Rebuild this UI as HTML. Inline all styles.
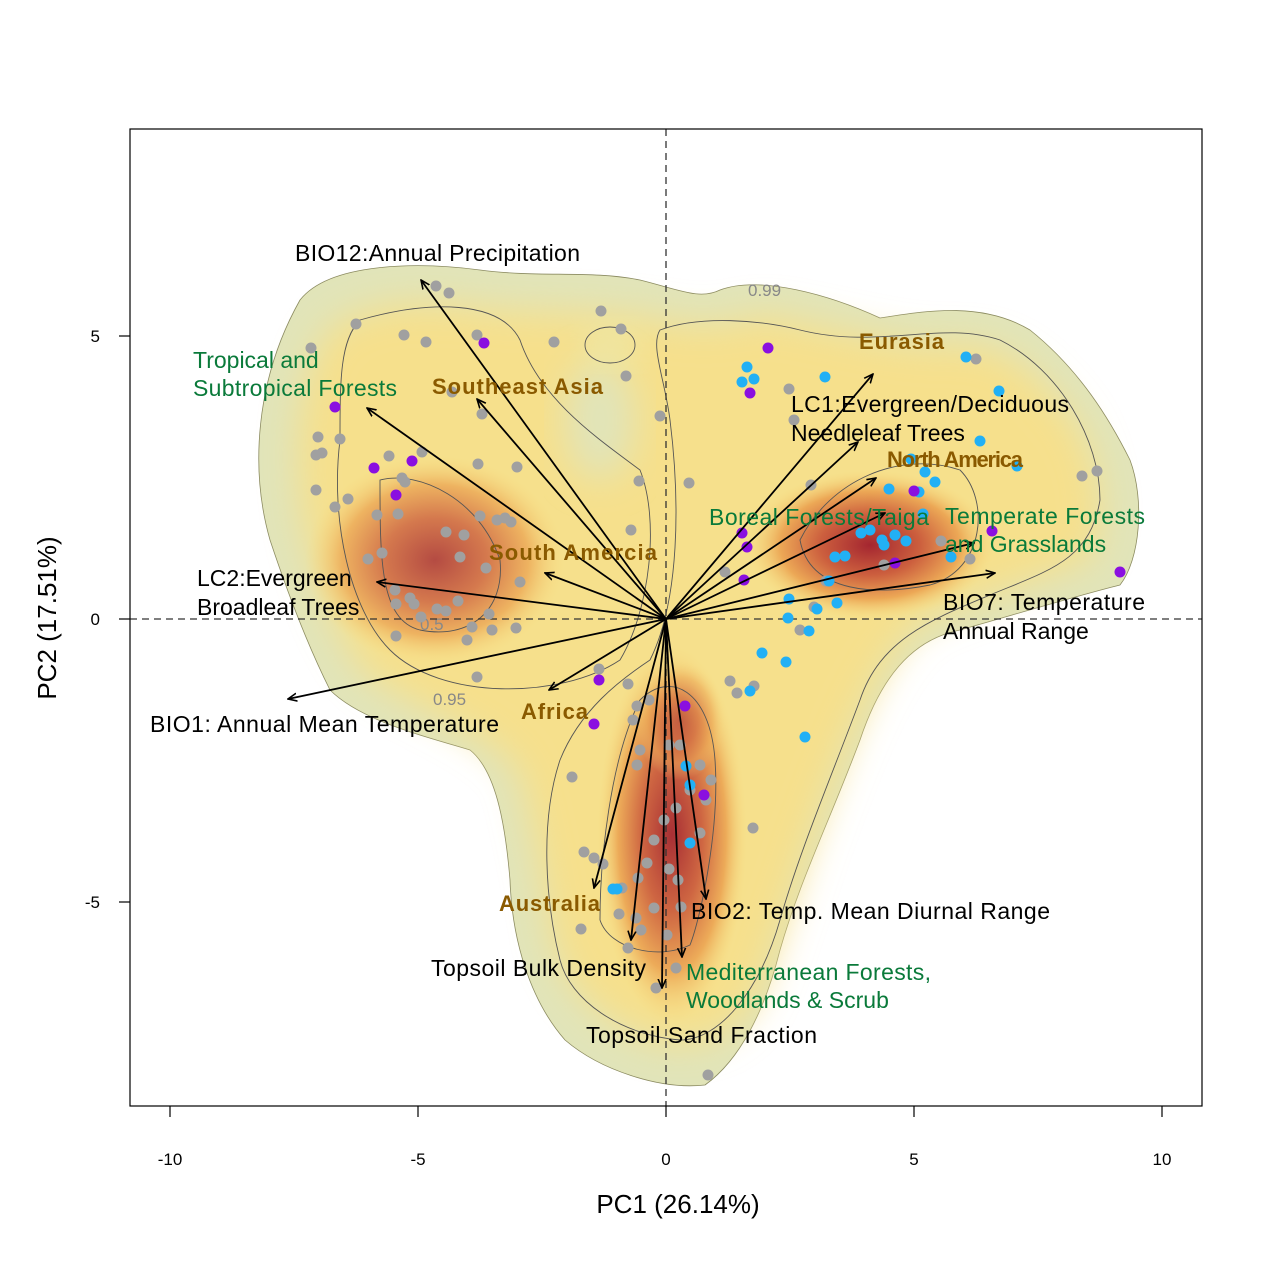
<!DOCTYPE html>
<html><head><meta charset="utf-8"><style>
html,body{margin:0;padding:0;background:#fff}
svg{display:block;font-family:"Liberation Sans",Arial,sans-serif}
</style></head><body>
<svg width="1269" height="1269" viewBox="0 0 1269 1269" xmlns="http://www.w3.org/2000/svg">
<defs>
<filter id="b1" x="-30%" y="-30%" width="160%" height="160%"><feGaussianBlur stdDeviation="18"/></filter>
<radialGradient id="hot"><stop offset="0" stop-color="#a42630"/><stop offset="0.4" stop-color="#cc5f3e"/><stop offset="0.72" stop-color="#eca856"/><stop offset="1" stop-color="#f7dc80" stop-opacity="0"/></radialGradient>
<marker id="ah" markerWidth="10" markerHeight="10" refX="9" refY="5" orient="auto" markerUnits="userSpaceOnUse"><path d="M0,1 L9,5 L0,9" fill="none" stroke="#000" stroke-width="1.6"/></marker>
<clipPath id="pc"><rect x="130" y="129" width="1072" height="977"/></clipPath>
</defs>
<g clip-path="url(#pc)">
<path d="M300,300 C330,262 420,262 480,270 C540,278 590,270 640,280 C680,290 700,300 720,290 C760,275 830,295 880,318 C920,312 980,300 1030,330 C1080,370 1110,420 1130,460 C1145,500 1140,560 1120,585 C1080,595 1030,610 960,630 C910,640 880,680 860,740 C830,820 800,880 780,950 C765,1010 740,1060 705,1085 C660,1090 600,1070 565,1040 C530,1000 512,940 510,880 C505,820 495,770 470,750 C420,735 360,720 330,690 C310,650 290,600 270,540 C250,470 255,380 300,300 Z" fill="#e1e4b9" stroke="#8a8a60" stroke-width="0.8"/>
<g filter="url(#b1)">
<path d="M330,330 C370,300 430,300 480,308 C540,312 590,310 650,318 C700,328 720,328 760,315 C830,325 900,348 950,345 C1000,340 1035,370 1070,415 C1100,455 1108,520 1090,558 C1045,578 985,595 925,620 C885,648 855,720 825,800 C795,880 775,955 755,1000 C730,1040 690,1050 652,1040 C605,1022 568,995 553,940 C543,880 533,820 518,770 C485,728 405,705 365,672 C337,635 318,585 305,528 C292,460 297,375 330,330 Z" fill="#f6e08c"/>
</g>
<ellipse cx="600" cy="420" rx="35" ry="60" fill="#e1e4b9" filter="url(#b1)"/>
<ellipse cx="610" cy="345" rx="25" ry="18" fill="#ede8a8" filter="url(#b1)"/>
<ellipse cx="435" cy="560" rx="130" ry="105" fill="url(#hot)" opacity="0.8"/>
<ellipse cx="870" cy="545" rx="125" ry="75" fill="url(#hot)"/>
<ellipse cx="672" cy="835" rx="75" ry="190" fill="url(#hot)" opacity="0.95"/>
<ellipse cx="680" cy="720" rx="45" ry="60" fill="url(#hot)" opacity="0.5"/>
<g fill="none" stroke="#555" stroke-width="0.9">
<path d="M360,320 C430,300 500,300 520,340 C540,400 600,440 640,470 C660,520 650,610 620,660 C560,700 440,700 390,650 C350,610 330,520 340,440 C340,380 340,340 360,320 Z"/>
<path d="M660,330 C700,315 760,320 800,330 C880,350 940,320 1000,340 C1060,370 1100,440 1100,500 C1090,560 1050,570 990,595 C930,620 880,640 860,700 C830,780 800,850 780,920 C760,990 720,1040 680,1040 C620,1035 570,1000 560,960 C545,900 540,820 560,760 C580,710 620,680 650,660 C680,600 680,500 670,420 C665,380 650,345 660,330 Z"/>
<path d="M380,480 C420,470 480,500 500,560 C505,610 470,640 420,630 C380,620 380,560 380,480 Z"/>
<path d="M800,540 C830,480 900,450 960,470 C990,500 985,570 930,585 C880,595 810,595 800,540 Z"/>
<path d="M640,700 C670,670 710,690 715,760 C720,830 700,920 690,945 C660,960 610,950 600,920 C600,860 610,760 640,700 Z"/>
<ellipse cx="610" cy="345" rx="25" ry="18"/>
</g>
<g font-size="17" fill="#888"><text x="748" y="296">0.99</text><text x="433" y="705">0.95</text><text x="420" y="630">0.5</text></g>
</g>
<line x1="666" y1="129" x2="666" y2="1106" stroke="#333" stroke-width="1.3" stroke-dasharray="7,5"/>
<line x1="130" y1="619" x2="1202" y2="619" stroke="#333" stroke-width="1.3" stroke-dasharray="7,5"/>
<g fill="#a0a0a0">
<circle cx="356" cy="324" r="5.5"/><circle cx="311" cy="348" r="5.5"/><circle cx="436" cy="286" r="5.5"/><circle cx="449" cy="293" r="5.5"/><circle cx="404" cy="335" r="5.5"/><circle cx="426" cy="342" r="5.5"/><circle cx="477" cy="335" r="5.5"/><circle cx="554" cy="342" r="5.5"/><circle cx="601" cy="311" r="5.5"/><circle cx="621" cy="329" r="5.5"/><circle cx="626" cy="376" r="5.5"/><circle cx="660" cy="416" r="5.5"/><circle cx="452" cy="392" r="5.5"/><circle cx="482" cy="414" r="5.5"/><circle cx="318" cy="437" r="5.5"/><circle cx="340" cy="439" r="5.5"/><circle cx="316" cy="455" r="5.5"/><circle cx="322" cy="453" r="5.5"/><circle cx="316" cy="490" r="5.5"/><circle cx="348" cy="499" r="5.5"/><circle cx="335" cy="507" r="5.5"/><circle cx="389" cy="456" r="5.5"/><circle cx="402" cy="478" r="5.5"/><circle cx="405" cy="482" r="5.5"/><circle cx="422" cy="452" r="5.5"/><circle cx="478" cy="464" r="5.5"/><circle cx="517" cy="467" r="5.5"/><circle cx="377" cy="515" r="5.5"/><circle cx="398" cy="514" r="5.5"/><circle cx="446" cy="532" r="5.5"/><circle cx="464" cy="535" r="5.5"/><circle cx="497" cy="520" r="5.5"/><circle cx="505" cy="518" r="5.5"/><circle cx="511" cy="522" r="5.5"/><circle cx="480" cy="516" r="5.5"/><circle cx="382" cy="553" r="5.5"/><circle cx="368" cy="559" r="5.5"/><circle cx="460" cy="557" r="5.5"/><circle cx="486" cy="568" r="5.5"/><circle cx="520" cy="582" r="5.5"/><circle cx="395" cy="590" r="5.5"/><circle cx="410" cy="598" r="5.5"/><circle cx="396" cy="604" r="5.5"/><circle cx="414" cy="604" r="5.5"/><circle cx="437" cy="609" r="5.5"/><circle cx="446" cy="611" r="5.5"/><circle cx="458" cy="601" r="5.5"/><circle cx="489" cy="614" r="5.5"/><circle cx="472" cy="627" r="5.5"/><circle cx="492" cy="630" r="5.5"/><circle cx="516" cy="628" r="5.5"/><circle cx="467" cy="640" r="5.5"/><circle cx="396" cy="636" r="5.5"/><circle cx="421" cy="617" r="5.5"/><circle cx="477" cy="677" r="5.5"/><circle cx="631" cy="530" r="5.5"/><circle cx="639" cy="481" r="5.5"/><circle cx="689" cy="483" r="5.5"/><circle cx="725" cy="572" r="5.5"/><circle cx="789" cy="389" r="5.5"/><circle cx="794" cy="420" r="5.5"/><circle cx="811" cy="485" r="5.5"/><circle cx="976" cy="359" r="5.5"/><circle cx="1082" cy="476" r="5.5"/><circle cx="1097" cy="471" r="5.5"/><circle cx="970" cy="559" r="5.5"/><circle cx="941" cy="541" r="5.5"/><circle cx="884" cy="565" r="5.5"/><circle cx="826" cy="581" r="5.5"/><circle cx="800" cy="630" r="5.5"/><circle cx="814" cy="607" r="5.5"/><circle cx="730" cy="681" r="5.5"/><circle cx="737" cy="693" r="5.5"/><circle cx="754" cy="686" r="5.5"/><circle cx="753" cy="828" r="5.5"/><circle cx="572" cy="777" r="5.5"/><circle cx="599" cy="669" r="5.5"/><circle cx="628" cy="684" r="5.5"/><circle cx="637" cy="706" r="5.5"/><circle cx="633" cy="720" r="5.5"/><circle cx="640" cy="750" r="5.5"/><circle cx="637" cy="765" r="5.5"/><circle cx="669" cy="745" r="5.5"/><circle cx="680" cy="745" r="5.5"/><circle cx="700" cy="765" r="5.5"/><circle cx="711" cy="780" r="5.5"/><circle cx="706" cy="800" r="5.5"/><circle cx="690" cy="790" r="5.5"/><circle cx="700" cy="833" r="5.5"/><circle cx="676" cy="808" r="5.5"/><circle cx="664" cy="820" r="5.5"/><circle cx="654" cy="840" r="5.5"/><circle cx="647" cy="863" r="5.5"/><circle cx="669" cy="869" r="5.5"/><circle cx="638" cy="878" r="5.5"/><circle cx="622" cy="888" r="5.5"/><circle cx="603" cy="864" r="5.5"/><circle cx="584" cy="852" r="5.5"/><circle cx="594" cy="858" r="5.5"/><circle cx="619" cy="914" r="5.5"/><circle cx="636" cy="918" r="5.5"/><circle cx="654" cy="908" r="5.5"/><circle cx="681" cy="907" r="5.5"/><circle cx="628" cy="948" r="5.5"/><circle cx="641" cy="930" r="5.5"/><circle cx="667" cy="935" r="5.5"/><circle cx="581" cy="929" r="5.5"/><circle cx="676" cy="968" r="5.5"/><circle cx="656" cy="988" r="5.5"/><circle cx="708" cy="1075" r="5.5"/><circle cx="649" cy="700" r="5.5"/><circle cx="678" cy="880" r="5.5"/>
</g>
<g fill="#22b0f5">
<circle cx="747" cy="367" r="5.5"/><circle cx="742" cy="382" r="5.5"/><circle cx="754" cy="379" r="5.5"/><circle cx="825" cy="377" r="5.5"/><circle cx="966" cy="357" r="5.5"/><circle cx="999" cy="391" r="5.5"/><circle cx="980" cy="441" r="5.5"/><circle cx="911" cy="459" r="5.5"/><circle cx="925" cy="472" r="5.5"/><circle cx="935" cy="482" r="5.5"/><circle cx="889" cy="489" r="5.5"/><circle cx="919" cy="492" r="5.5"/><circle cx="1017" cy="466" r="5.5"/><circle cx="923" cy="514" r="5.5"/><circle cx="861" cy="533" r="5.5"/><circle cx="870" cy="530" r="5.5"/><circle cx="882" cy="540" r="5.5"/><circle cx="895" cy="535" r="5.5"/><circle cx="906" cy="541" r="5.5"/><circle cx="884" cy="545" r="5.5"/><circle cx="835" cy="557" r="5.5"/><circle cx="845" cy="556" r="5.5"/><circle cx="951" cy="557" r="5.5"/><circle cx="829" cy="581" r="5.5"/><circle cx="789" cy="599" r="5.5"/><circle cx="788" cy="618" r="5.5"/><circle cx="809" cy="631" r="5.5"/><circle cx="817" cy="609" r="5.5"/><circle cx="837" cy="603" r="5.5"/><circle cx="762" cy="653" r="5.5"/><circle cx="786" cy="662" r="5.5"/><circle cx="750" cy="691" r="5.5"/><circle cx="805" cy="737" r="5.5"/><circle cx="686" cy="766" r="5.5"/><circle cx="690" cy="785" r="5.5"/><circle cx="690" cy="843" r="5.5"/><circle cx="613" cy="889" r="5.5"/><circle cx="617" cy="889" r="5.5"/>
</g>
<g fill="#8a0fe0">
<circle cx="484" cy="343" r="5.5"/><circle cx="335" cy="407" r="5.5"/><circle cx="412" cy="461" r="5.5"/><circle cx="374" cy="468" r="5.5"/><circle cx="396" cy="495" r="5.5"/><circle cx="768" cy="348" r="5.5"/><circle cx="750" cy="393" r="5.5"/><circle cx="742" cy="533" r="5.5"/><circle cx="747" cy="547" r="5.5"/><circle cx="744" cy="580" r="5.5"/><circle cx="914" cy="491" r="5.5"/><circle cx="992" cy="531" r="5.5"/><circle cx="895" cy="563" r="5.5"/><circle cx="1120" cy="572" r="5.5"/><circle cx="599" cy="680" r="5.5"/><circle cx="594" cy="724" r="5.5"/><circle cx="685" cy="706" r="5.5"/><circle cx="704" cy="795" r="5.5"/>
</g>
<g stroke="#000" stroke-width="1.8" marker-end="url(#ah)">
<line x1="666" y1="619" x2="421" y2="280"/><line x1="666" y1="619" x2="367" y2="408"/><line x1="666" y1="619" x2="477" y2="399"/><line x1="666" y1="619" x2="858" y2="442"/><line x1="666" y1="619" x2="873" y2="374"/><line x1="666" y1="619" x2="876" y2="478"/><line x1="666" y1="619" x2="885" y2="513"/><line x1="666" y1="619" x2="974" y2="543"/><line x1="666" y1="619" x2="995" y2="573"/><line x1="666" y1="619" x2="377" y2="582"/><line x1="666" y1="619" x2="288" y2="699"/><line x1="666" y1="619" x2="545" y2="573"/><line x1="666" y1="619" x2="549" y2="690"/><line x1="666" y1="619" x2="594" y2="888"/><line x1="666" y1="619" x2="631" y2="940"/><line x1="666" y1="619" x2="662" y2="988"/><line x1="666" y1="619" x2="682" y2="957"/><line x1="666" y1="619" x2="706" y2="899"/>
</g>
<g font-size="23" fill="#000">
<text x="295" y="261" textLength="285">BIO12:Annual Precipitation</text>
<text x="791" y="412" textLength="278">LC1:Evergreen/Deciduous</text><text x="791" y="441">Needleleaf Trees</text>
<text x="943" y="610" textLength="202">BIO7: Temperature</text><text x="943" y="639">Annual Range</text>
<text x="197" y="586">LC2:Evergreen</text><text x="197" y="615">Broadleaf Trees</text>
<text x="150" y="732" textLength="349">BIO1: Annual Mean Temperature</text>
<text x="691" y="919" textLength="359">BIO2: Temp. Mean Diurnal Range</text>
<text x="431" y="976" textLength="215">Topsoil Bulk Density</text>
<text x="586" y="1043" textLength="231">Topsoil Sand Fraction</text>
</g>
<g font-size="23" fill="#0a7a3a">
<text x="193" y="368">Tropical and</text><text x="193" y="396" textLength="204">Subtropical Forests</text>
<text x="709" y="525" textLength="220">Boreal Forests/Taiga</text>
<text x="945" y="524" textLength="200">Temperate Forests</text><text x="945" y="552">and Grasslands</text>
<text x="686" y="980" textLength="245">Mediterranean Forests,</text><text x="686" y="1008">Woodlands &amp; Scrub</text>
</g>
<g font-size="22" fill="#8a5a00" font-weight="bold">
<text x="859" y="349" textLength="85">Eurasia</text>
<text x="432" y="394" textLength="171">Southeast Asia</text>
<text x="887" y="467" textLength="136">North America</text>
<text x="489" y="560" textLength="168">South Amercia</text>
<text x="521" y="719" textLength="67">Africa</text>
<text x="499" y="911" textLength="101">Australia</text>
</g>
<rect x="130" y="129" width="1072" height="977" fill="none" stroke="#000" stroke-width="1.2"/>
<g stroke="#000" stroke-width="1.2">
<line x1="170" y1="1106" x2="170" y2="1117"/><line x1="418" y1="1106" x2="418" y2="1117"/><line x1="666" y1="1106" x2="666" y2="1117"/><line x1="914" y1="1106" x2="914" y2="1117"/><line x1="1162" y1="1106" x2="1162" y2="1117"/>
<line x1="119" y1="336" x2="130" y2="336"/><line x1="119" y1="619" x2="130" y2="619"/><line x1="119" y1="902" x2="130" y2="902"/>
</g>
<g font-size="17" fill="#000" text-anchor="middle">
<text x="170" y="1165">-10</text><text x="418" y="1165">-5</text><text x="666" y="1165">0</text><text x="914" y="1165">5</text><text x="1162" y="1165">10</text>
</g>
<g font-size="17" fill="#000" text-anchor="end">
<text x="100" y="342">5</text><text x="100" y="625">0</text><text x="100" y="908">-5</text>
</g>
<text x="678" y="1213" font-size="26" text-anchor="middle">PC1 (26.14%)</text>
<text transform="translate(56,618) rotate(-90)" font-size="26" text-anchor="middle">PC2 (17.51%)</text>
</svg>
</body></html>
